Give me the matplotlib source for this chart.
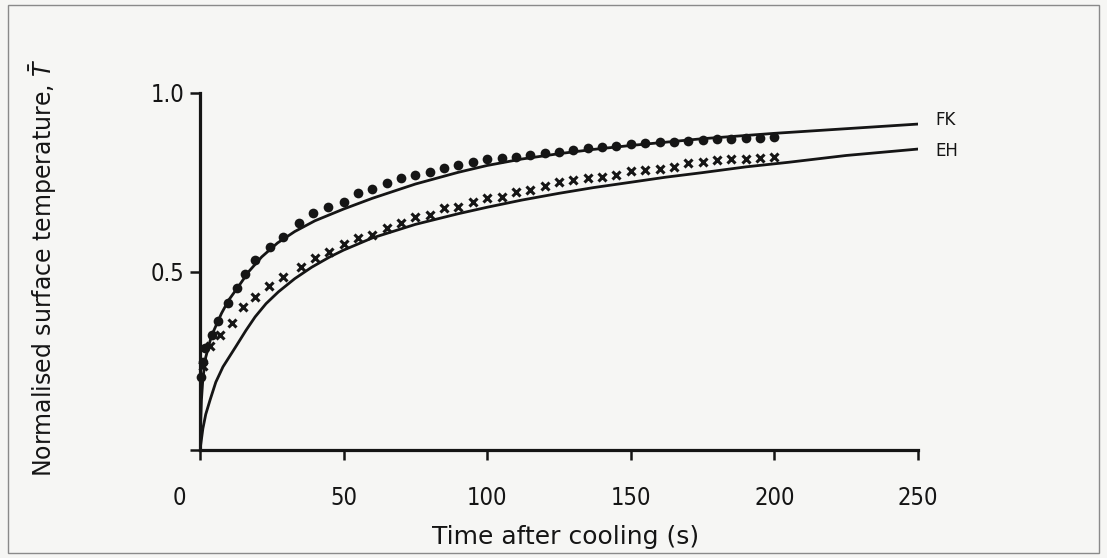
import matplotlib
matplotlib.use("Agg")
import matplotlib.pyplot as plt
from matplotlib.patches import Rectangle

# ---- data ----
# Measured points: FK (filled circles)
fk_pts_t = [0.5, 1.2, 1.7, 4.1, 6.4, 9.9, 12.8, 15.7, 19.2, 24.4, 29, 34.5, 39.5, 44.5,
            50, 55, 60, 65, 70, 75, 80, 85, 90, 95, 100, 105, 110, 115, 120, 125, 130,
            135, 140, 145, 150, 155, 160, 165, 170, 175, 180, 185, 190, 195, 200]
fk_pts_T = [0.205, 0.247, 0.285, 0.322, 0.362, 0.411, 0.453, 0.492, 0.532, 0.569, 0.598,
            0.637, 0.663, 0.681, 0.695, 0.719, 0.730, 0.747, 0.761, 0.770, 0.780, 0.789,
            0.798, 0.808, 0.815, 0.817, 0.822, 0.826, 0.831, 0.836, 0.840, 0.845, 0.848,
            0.852, 0.857, 0.859, 0.862, 0.864, 0.866, 0.868, 0.870, 0.872, 0.873, 0.875,
            0.876]
# Measured points: EH (crosses)
eh_pts_t = [1, 3.5, 7, 11, 15, 19, 24, 29, 35, 40, 45,
            50, 55, 60, 65, 70, 75, 80, 85, 90, 95, 100, 105, 110, 115, 120, 125, 130,
            135, 140, 145, 150, 155, 160, 165, 170, 175, 180, 185, 190, 195, 200]
eh_pts_T = [0.235, 0.29, 0.322, 0.357, 0.401, 0.429, 0.459, 0.485, 0.513, 0.537, 0.556,
            0.578, 0.593, 0.602, 0.621, 0.635, 0.652, 0.658, 0.677, 0.682, 0.695, 0.706,
            0.708, 0.724, 0.728, 0.739, 0.752, 0.756, 0.761, 0.766, 0.770, 0.781, 0.784,
            0.786, 0.794, 0.803, 0.808, 0.812, 0.814, 0.815, 0.817, 0.822]
# Computed curves
fk_line_t = [0, 0.5, 1, 2, 4, 7.5, 10, 13.3, 17, 21.5, 27, 33, 40, 50, 60, 75, 90, 100,
             112, 125, 137, 150, 175, 200, 225, 250]
fk_line_T = [0.02, 0.14, 0.20, 0.26, 0.32, 0.383, 0.42, 0.457, 0.50, 0.541, 0.58, 0.612,
             0.642, 0.675, 0.705, 0.745, 0.778, 0.797, 0.815, 0.830, 0.842, 0.853, 0.872,
             0.887, 0.900, 0.913]
eh_line_t = [0, 1, 2, 3.5, 5.5, 8, 12.5, 16, 19.2, 23, 27.3, 33, 38.9, 45, 50, 60, 75, 90,
             100, 112, 125, 137, 150, 162, 175, 190, 205, 225, 250]
eh_line_T = [0.0, 0.06, 0.10, 0.14, 0.19, 0.233, 0.29, 0.335, 0.373, 0.41, 0.443, 0.480,
             0.512, 0.540, 0.560, 0.594, 0.632, 0.662, 0.680, 0.700, 0.719, 0.735, 0.750,
             0.764, 0.777, 0.793, 0.806, 0.825, 0.843]
x_ticks = [0, 50, 100, 150, 200, 250]
x_tick_labels = ["", "50", "100", "150", "200", "250"]
y_ticks = [0, 0.5, 1.0]
y_tick_labels = ["", "0.5", "1.0"]
curve_names = ["FK", "EH"]

bg = "#f6f6f4"
ink = "#151515"
plt.rcParams["font.family"] = ["DejaVu Sans"]

fig = plt.figure(figsize=(11.07, 5.58), dpi=100, facecolor=bg)
ax = fig.add_axes([200 / 1107, 1 - 450 / 558, 718 / 1107, 357 / 558])
ax.set_facecolor(bg)

ax.plot(fk_line_t, fk_line_T, color=ink, lw=2.0, solid_capstyle="round",
        solid_joinstyle="round")
ax.plot(eh_line_t, eh_line_T, color=ink, lw=2.0, solid_capstyle="round",
        solid_joinstyle="round")
ax.plot(fk_pts_t, fk_pts_T, "o", color=ink, ms=7.0, mew=0, clip_on=False)
ax.plot(eh_pts_t, eh_pts_T, "x", color=ink, ms=6.3, mew=2.2, clip_on=False)

ax.set_xlim(0, 250)
ax.set_ylim(0, 1.0)
for s in ["top", "right"]:
    ax.spines[s].set_visible(False)
for s in ["left", "bottom"]:
    ax.spines[s].set_linewidth(2.3)
    ax.spines[s].set_color(ink)

ax.set_xticks(x_ticks)
ax.set_xticklabels(x_tick_labels)
ax.set_yticks(y_ticks)
ax.set_yticklabels(y_tick_labels)
ax.tick_params(axis="both", direction="out", length=7, width=1.8, color=ink,
               labelsize=17, labelcolor=ink)
ax.tick_params(axis="x", pad=19)
ax.tick_params(axis="y", pad=4)
for lab in ax.get_xticklabels() + ax.get_yticklabels():
    lab.set_fontstretch("condensed")

# origin label "0", placed in figure inches
fig.text(179 / 1107, (558 - 498) / 558, "0", ha="center", va="center",
         fontsize=17, color=ink, fontstretch="condensed")

ax.set_xlabel("Time after cooling (s)", fontsize=18, color=ink)
ax.xaxis.set_label_coords((566 - 200) / 718, -(537 - 450) / 357)
ax.xaxis.label.set_va("center")
ax.set_ylabel(r"Normalised surface temperature, $\bar{T}$", fontsize=17, color=ink)
ax.yaxis.set_label_coords((43 - 200) / 718, 0.51)
ax.yaxis.label.set_va("center")

ax.text(256, fk_line_T[-1] + 0.01, curve_names[0], fontsize=12, color=ink, va="center",
        ha="left", clip_on=False)
ax.text(256, eh_line_T[-1] - 0.005, curve_names[1], fontsize=12, color=ink, va="center",
        ha="left", clip_on=False)

fig.patches.append(Rectangle((8 / 1107, 5 / 558), 1091 / 1107, 548 / 558,
                             transform=fig.transFigure, fill=False,
                             edgecolor="#8a8a8a", lw=1.0))

fig.savefig("out.png", dpi=100, facecolor=bg)
